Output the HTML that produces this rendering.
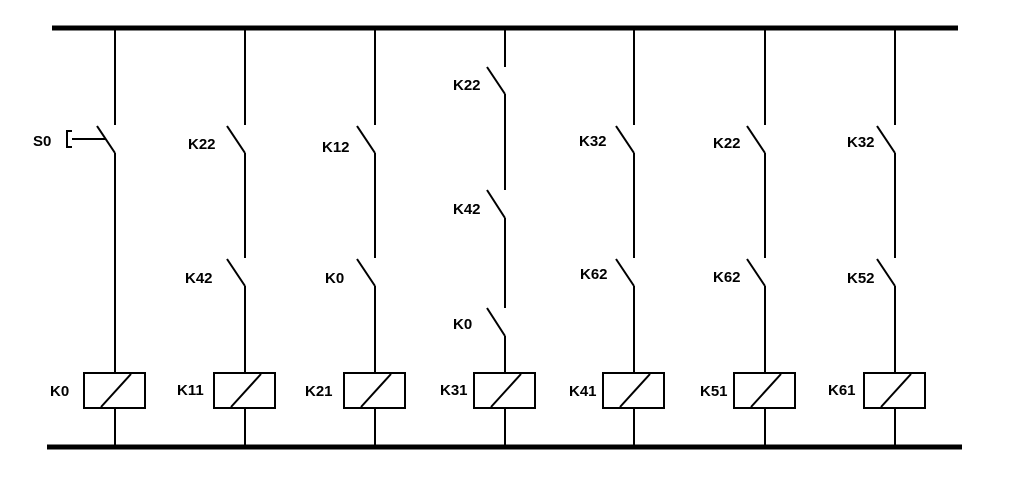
<!DOCTYPE html>
<html><head><style>
html,body{margin:0;padding:0;background:#fff;width:1012px;height:499px;overflow:hidden}
svg text{font-family:"Liberation Sans",Arial,sans-serif;font-weight:bold;font-size:15px;fill:#000}
</style></head><body>
<svg width="1012" height="499" viewBox="0 0 1012 499" xmlns="http://www.w3.org/2000/svg">
<g stroke="#000" fill="none">
<line x1="52" y1="28" x2="958" y2="28" stroke-width="5"/>
<line x1="47" y1="447" x2="962" y2="447" stroke-width="5"/>
<g stroke-width="2">
<!-- col1 -->
<path d="M115 28V125M97 126L115 153M115 153V373M115 408V447"/>
<path d="M72 139H106M72 131H67V147H72"/>
<!-- col2 -->
<path d="M245 28V125M227 126L245 153M245 153V258M227 259L245 286M245 286V373M245 408V447"/>
<!-- col3 -->
<path d="M375 28V125M357 126L375 153M375 153V258M357 259L375 286M375 286V373M375 408V447"/>
<!-- col4 -->
<path d="M505 28V67M487 67L505 94M505 94V190M487 190L505 218M505 218V308M487 308L505 336M505 336V373M505 408V447"/>
<!-- col5 -->
<path d="M634 28V125M616 126L634 153M634 153V258M616 259L634 286M634 286V373M634 408V447"/>
<!-- col6 -->
<path d="M765 28V125M747 126L765 153M765 153V258M747 259L765 286M765 286V373M765 408V447"/>
<!-- col7 -->
<path d="M895 28V125M877 126L895 153M895 153V258M877 259L895 286M895 286V373M895 408V447"/>
<!-- coils -->
<g>
<rect x="84" y="373" width="61" height="35"/><line x1="101" y1="407" x2="131" y2="374"/>
<rect x="214" y="373" width="61" height="35"/><line x1="231" y1="407" x2="261" y2="374"/>
<rect x="344" y="373" width="61" height="35"/><line x1="361" y1="407" x2="391" y2="374"/>
<rect x="474" y="373" width="61" height="35"/><line x1="491" y1="407" x2="521" y2="374"/>
<rect x="603" y="373" width="61" height="35"/><line x1="620" y1="407" x2="650" y2="374"/>
<rect x="734" y="373" width="61" height="35"/><line x1="751" y1="407" x2="781" y2="374"/>
<rect x="864" y="373" width="61" height="35"/><line x1="881" y1="407" x2="911" y2="374"/>
</g>
</g>
</g>
<text x="33" y="146">S0</text>
<text x="188" y="149">K22</text>
<text x="185" y="283">K42</text>
<text x="322" y="152">K12</text>
<text x="325" y="283">K0</text>
<text x="453" y="90">K22</text>
<text x="453" y="214">K42</text>
<text x="453" y="329">K0</text>
<text x="579" y="146">K32</text>
<text x="580" y="279">K62</text>
<text x="713" y="148">K22</text>
<text x="713" y="282">K62</text>
<text x="847" y="147">K32</text>
<text x="847" y="283">K52</text>
<text x="50" y="396">K0</text>
<text x="177" y="395">K11</text>
<text x="305" y="396">K21</text>
<text x="440" y="395">K31</text>
<text x="569" y="396">K41</text>
<text x="700" y="396">K51</text>
<text x="828" y="395">K61</text>
</svg>
</body></html>
